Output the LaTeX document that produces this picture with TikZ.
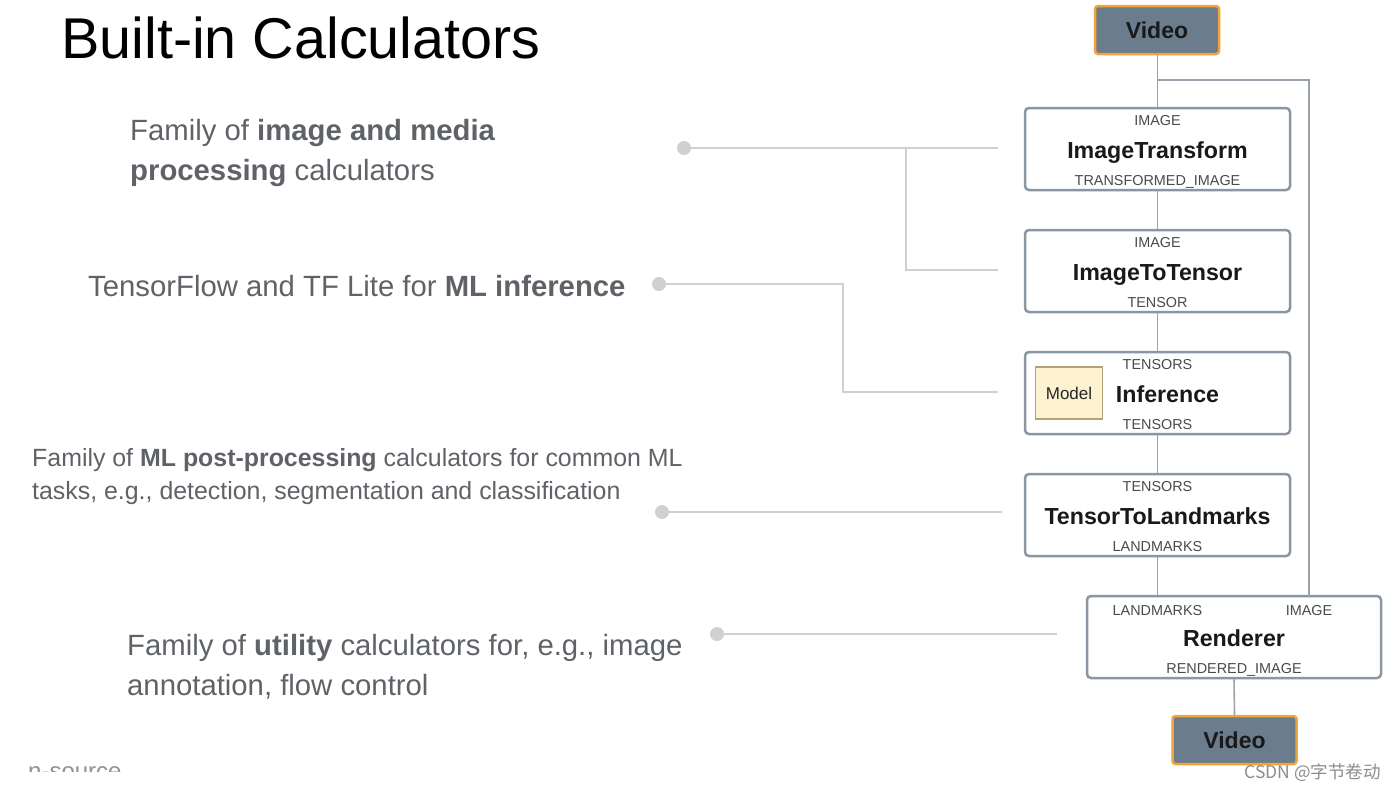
\documentclass[tikz,border=0pt]{standalone}
\usepackage{fontspec}
\setmainfont{Liberation Sans}
\newfontfamily\cjk{Noto Sans CJK SC}
\usetikzlibrary{calc}
\definecolor{descgray}{HTML}{5F6368}
\definecolor{boxborder}{HTML}{8A96A1}
\definecolor{flowline}{HTML}{9AA3AB}
\definecolor{leadline}{HTML}{CFD0D2}
\definecolor{videofill}{HTML}{6B7C8D}
\definecolor{videoborder}{HTML}{F2A33A}
\definecolor{modelfill}{HTML}{FDF2CF}
\definecolor{modelborder}{HTML}{B3A278}
\definecolor{labelgray}{HTML}{4A4A4A}
\tikzset{
  calcbox/.style={draw=boxborder, line width=2.5pt, rounded corners=4pt, fill=white, minimum width=265pt, minimum height=82pt, inner sep=0pt},
  videobox/.style={draw=videoborder, line width=2.5pt, rounded corners=3pt, fill=videofill, minimum width=124pt, minimum height=48pt, inner sep=0pt, font=\fontsize{23}{26}\selectfont\bfseries, text=black!90},
  portlabel/.style={anchor=base, inner sep=0pt, font=\fontsize{14.4}{16}\selectfont, text=labelgray},
  calcname/.style={anchor=base, inner sep=0pt, font=\fontsize{23.2}{26}\selectfont\bfseries, text=black!90},
  desc/.style={anchor=base west, inner sep=0pt, text=descgray},
  flow/.style={draw=flowline, line width=1.6pt},
  lead/.style={draw=leadline, line width=2.5pt},
  leaddot/.style={circle, fill=leadline, minimum size=14pt, inner sep=0pt},
}
\begin{document}
\begin{tikzpicture}[x=1pt,y=-1pt]
\useasboundingbox[fill=white] (0,0) rectangle (1396,790);

% title
\node[anchor=base west, inner sep=0pt, font=\fontsize{57.5}{60}\selectfont, text=black] (title) at (61,58) {Built-in Calculators};

% calculator boxes
\node[videobox] (vin) at (1157,30) {Video};
\node[calcbox] (it) at (1157.5,149) {};
\node[calcbox] (itt) at (1157.5,271) {};
\node[calcbox] (inf) at (1157.5,393) {};
\node[calcbox] (ttl) at (1157.5,515) {};
\node[calcbox, minimum width=294pt] (rend) at (1234,637) {};
\node[videobox] (vout) at (1234.5,740) {Video};

% labels
\node[portlabel] (it-in) at ($(it.north)+(0,19)$) {IMAGE};
\node[calcname] (it-name) at ($(it.north)+(0,52)$) {ImageTransform};
\node[portlabel] (it-out) at ($(it.north)+(0,79)$) {TRANSFORMED\_IMAGE};

\node[portlabel] (itt-in) at ($(itt.north)+(0,19)$) {IMAGE};
\node[calcname] (itt-name) at ($(itt.north)+(0,52)$) {ImageToTensor};
\node[portlabel] (itt-out) at ($(itt.north)+(0,79)$) {TENSOR};

\node[portlabel] (inf-in) at ($(inf.north)+(0,19)$) {TENSORS};
\node[calcname] (inf-name) at ($(inf.north)+(10,52)$) {Inference};
\node[portlabel] (inf-out) at ($(inf.north)+(0,79)$) {TENSORS};
\node[draw=modelborder, line width=1.5pt, fill=modelfill, minimum width=67pt, minimum height=52pt, inner sep=0pt, font=\fontsize{17}{20}\selectfont, text=black!85] (model) at (1069,393) {Model};

\node[portlabel] (ttl-in) at ($(ttl.north)+(0,19)$) {TENSORS};
\node[calcname] (ttl-name) at ($(ttl.north)+(0,52)$) {TensorToLandmarks};
\node[portlabel] (ttl-out) at ($(ttl.north)+(0,79)$) {LANDMARKS};

\node[portlabel] (rend-in1) at (1157.5,615) {LANDMARKS};
\node[portlabel] (rend-in2) at (1309,615) {IMAGE};
\node[calcname] (rend-name) at ($(rend.north)+(0,52)$) {Renderer};
\node[portlabel] (rend-out) at ($(rend.north)+(0,79)$) {RENDERED\_IMAGE};

% flow lines
\coordinate (split) at (1157.5,80);
\coordinate (rimg) at (1309,596);
\draw[flow] (vin.south -| split) -- (it.north);
\draw[flow] (split) -| (rimg);
\draw[flow] (it.south) -- (itt.north);
\draw[flow] (itt.south) -- (inf.north);
\draw[flow] (inf.south) -- (ttl.north);
\draw[flow] (ttl.south) -- (ttl.south |- rend.north);
\draw[flow] (rend.south) -- (vout.north);

% lead lines
\node[leaddot] (d1) at (684,148) {};
\node[leaddot] (d2) at (659,284) {};
\node[leaddot] (d3) at (662,512) {};
\node[leaddot] (d4) at (717,634) {};
\coordinate (e1) at (998,148);
\coordinate (e1b) at (998,270);
\coordinate (e2) at (998,392);
\coordinate (e3) at (1002,512);
\coordinate (e4) at (1057,634);
\coordinate (b1) at (906,148);
\coordinate (b2) at (843,284);
\draw[lead] (d1.center) -- (e1);
\draw[lead] (b1) |- (e1b);
\draw[lead] (d2.center) -- (b2) |- (e2);
\draw[lead] (d3.center) -- (e3);
\draw[lead] (d4.center) -- (e4);

% descriptions
\node[desc, font=\fontsize{29.3}{32}\selectfont] (t1a) at (130,140) {Family of \textbf{image and media}};
\node[desc, font=\fontsize{29.3}{32}\selectfont] (t1b) at (130,180) {\textbf{processing} calculators};
\node[desc, font=\fontsize{29.3}{32}\selectfont] (t2) at (88,296) {TensorFlow and TF Lite for \textbf{ML inference}};
\node[desc, font=\fontsize{24.9}{28}\selectfont] (t3a) at (32,466) {Family of \textbf{ML post-processing} calculators for common ML};
\node[desc, font=\fontsize{24.9}{28}\selectfont] (t3b) at (32,499) {tasks, e.g., detection, segmentation and classification};
\node[desc, font=\fontsize{29.3}{32}\selectfont] (t4a) at (127,655) {Family of \textbf{utility} calculators for, e.g., image};
\node[desc, font=\fontsize{29.3}{32}\selectfont] (t4b) at (127,695) {annotation, flow control};

% clipped footer text
\begin{scope}
\clip (0,0) rectangle (400,771);
\node[desc, font=\fontsize{24}{28}\selectfont, text=descgray!70] (src) at (28,779) {n-source};
\end{scope}

% watermark
\node[anchor=base east, inner sep=0pt, font=\cjk\fontsize{17.5}{20}\selectfont, text=black!45] (wm) at (1381,778) {CSDN @字节卷动};
\end{tikzpicture}
\end{document}
